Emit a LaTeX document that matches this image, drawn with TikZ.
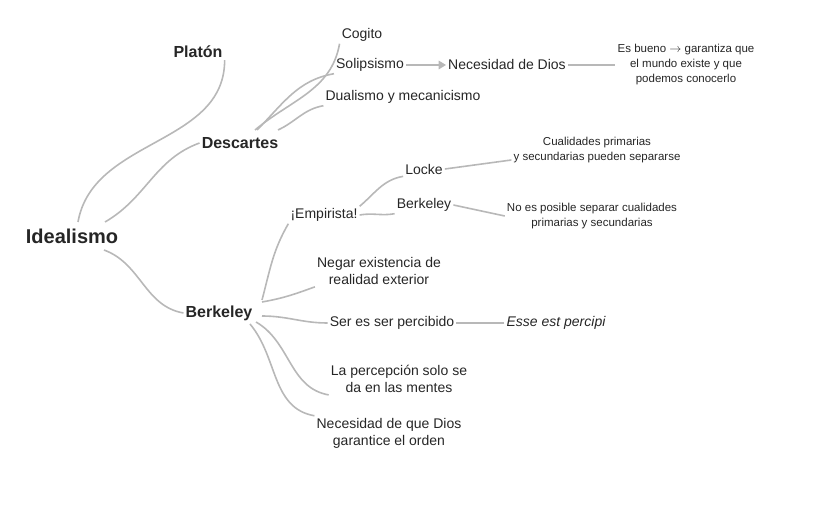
\documentclass[tikz,border=0pt]{standalone}
\usepackage{fontspec}
\setmainfont{Liberation Sans}
\usetikzlibrary{positioning}
\usetikzlibrary{arrows.meta}
\definecolor{mygray}{rgb}{0.72,0.72,0.72}

\begin{document}
\begin{tikzpicture}[%
  x=1pt, y=-1pt,
  >={Triangle[scale=1.0]},
  every node/.style={font=\fontsize{14}{17}\selectfont, text=black!85, inner sep=2pt, align=center},
  topic/.style={font=\fontsize{16}{19}\selectfont\bfseries},
  root/.style={font=\fontsize{20}{24}\selectfont\bfseries},
  note/.style={font=\fontsize{11.5}{15}\selectfont},
  branch/.style={draw=mygray, line width=1.6pt},
]
  \useasboundingbox (0,0) rectangle (820,518);

  % nodes
  \node[root] (ideal) at (72,236) {Idealismo};
  \node[topic] (platon) at (198,52) {Platón};
  \node[topic] (desc) at (240,143) {Descartes};
  \node[topic] (berk) at (219,313) {Berkeley};

  \node (cogito) at (362,35) {Cogito};
  \node (solip) at (370,65) {Solipsismo};
  \node (nec) at (507,65) {Necesidad de Dios};
  \node[note] (bueno) at (686,65) {Es bueno $\rightarrow$ garantiza que\\el mundo existe y que\\podemos conocerlo};
  \node (dual) at (403,97) {Dualismo y mecanicismo};

  \node (emp) at (324,215) {¡Empirista!};
  \node (locke) at (424,169) {Locke};
  \node[note] (cual) at (597,150) {Cualidades primarias\\y secundarias pueden separarse};
  \node (berk2) at (424,205) {Berkeley};
  \node[note] (noes) at (592,216) {No es posible separar cualidades\\primarias y secundarias};

  \node (negar) at (379,271) {Negar existencia de\\realidad exterior};
  \node (ser) at (392,323) {Ser es ser percibido};
  \node (esse) at (556,323) {\itshape Esse est percipi};
  \node (perc) at (399,379) {La percepción solo se\\da en las mentes};
  \node (orden) at (389,433) {Necesidad de que Dios\\garantice el orden};

  % connectors
  \draw[branch] (78,222) to[out=80,in=-90] (platon.south east);
  \draw[branch] (105,222) to[out=30,in=200] (desc.west);
  \draw[branch] (104,250) to[out=-20,in=170] (berk.west);

  \draw[branch] (255,130) to[out=40,in=-100] (cogito.south west);
  \draw[branch] (257,130) to[out=45,in=-170] (solip.south west);
  \draw[branch] (278,130) to[out=25,in=-170] (dual.south west);
  \draw[branch,->] (solip) -- (nec);
  \draw[branch] (nec) -- (bueno.west |- nec);

  \draw[branch] (262,300) to[out=75,in=-120] (emp.south west);
  \draw[branch] (emp.north east) to[out=40,in=-170] (locke.south west);
  \draw[branch] (emp.east) to[out=10,in=-170] (berk2.south west);
  \draw[branch] (locke.east) -- (cual.west |- 0,160);
  \draw[branch] (berk2.east) -- (noes.west);

  \draw[branch] (262,302) to[out=10,in=-160] (negar.south west);
  \draw[branch] (262,316) to[out=0,in=180] (ser.west);
  \draw[branch] (esse.west) -- (ser.east);
  \draw[branch] (256,322) to[out=-30,in=170] (perc.south west);
  \draw[branch] (250,324) to[out=-50,in=170] (orden.north west);
\end{tikzpicture}
\end{document}
